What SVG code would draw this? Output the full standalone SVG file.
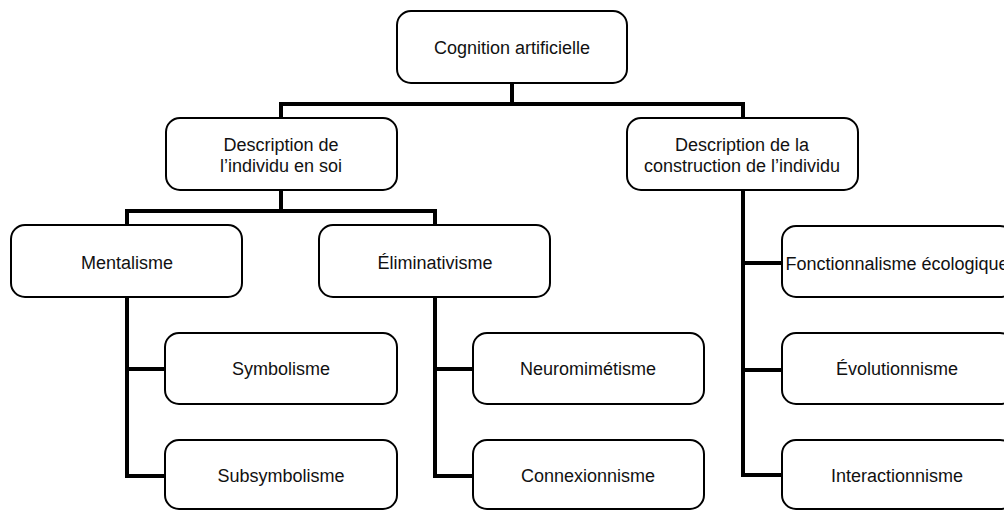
<svg xmlns="http://www.w3.org/2000/svg" width="1004" height="510" viewBox="0 0 1004 510">
  <style>
    .box { fill: #ffffff; stroke: #000000; stroke-width: 2; }
    .lbl { font-family: "Liberation Sans", Arial, sans-serif; font-size: 18px; fill: #111111; text-anchor: middle; }
    .link { fill: none; stroke: #000000; stroke-width: 4; stroke-linejoin: miter; stroke-linecap: square; }
  </style>
  <rect width="1004" height="510" fill="#ffffff"/>

  <!-- connectors -->
  <g id="connectors">
    <path class="link" d="M512,84 V104 M281,104 H743 M281,104 V117 M743,104 V117"/>
    <path class="link" d="M281,191 V211 M127,211 H435 M127,211 V224 M435,211 V224"/>
    <path class="link" d="M127,298 V476 H164 M127,369 H164"/>
    <path class="link" d="M435,298 V476 H472 M435,369 H472"/>
    <path class="link" d="M743,191 V475 H781 M743,263 H781 M743,370 H781"/>
  </g>

  <g id="cognition-artificielle">
    <rect class="box" x="397" y="11" width="230" height="72" rx="14"/>
    <text class="lbl" x="512" y="54">Cognition artificielle</text>
  </g>

  <g id="individu-en-soi">
    <rect class="box" x="166" y="118" width="231" height="72" rx="14"/>
    <text class="lbl" x="281" y="151">Description de</text>
    <text class="lbl" x="281" y="172">l’individu en soi</text>
  </g>

  <g id="construction-individu">
    <rect class="box" x="627" y="118" width="231" height="72" rx="14"/>
    <text class="lbl" x="742" y="151">Description de la</text>
    <text class="lbl" x="742" y="172">construction de l’individu</text>
  </g>

  <g id="mentalisme">
    <rect class="box" x="11" y="225" width="231" height="72" rx="14"/>
    <text class="lbl" x="127" y="269">Mentalisme</text>
  </g>

  <g id="eliminativisme">
    <rect class="box" x="319" y="225" width="231" height="72" rx="14"/>
    <text class="lbl" x="435" y="269">Éliminativisme</text>
  </g>

  <g id="symbolisme">
    <rect class="box" x="165" y="333" width="232" height="71" rx="14"/>
    <text class="lbl" x="281" y="375">Symbolisme</text>
  </g>

  <g id="subsymbolisme">
    <rect class="box" x="165" y="440" width="232" height="69" rx="14"/>
    <text class="lbl" x="281" y="482">Subsymbolisme</text>
  </g>

  <g id="neuromimetisme">
    <rect class="box" x="473" y="333" width="231" height="71" rx="14"/>
    <text class="lbl" x="588" y="375">Neuromimétisme</text>
  </g>

  <g id="connexionnisme">
    <rect class="box" x="473" y="440" width="231" height="69" rx="14"/>
    <text class="lbl" x="588" y="482">Connexionnisme</text>
  </g>

  <g id="fonctionnalisme-ecologique">
    <rect class="box" x="782" y="226" width="232" height="71" rx="14"/>
    <text class="lbl" x="897" y="270">Fonctionnalisme écologique</text>
  </g>

  <g id="evolutionnisme">
    <rect class="box" x="782" y="333" width="232" height="71" rx="14"/>
    <text class="lbl" x="897" y="375">Évolutionnisme</text>
  </g>

  <g id="interactionnisme">
    <rect class="box" x="782" y="440" width="232" height="69" rx="14"/>
    <text class="lbl" x="897" y="482">Interactionnisme</text>
  </g>
</svg>
